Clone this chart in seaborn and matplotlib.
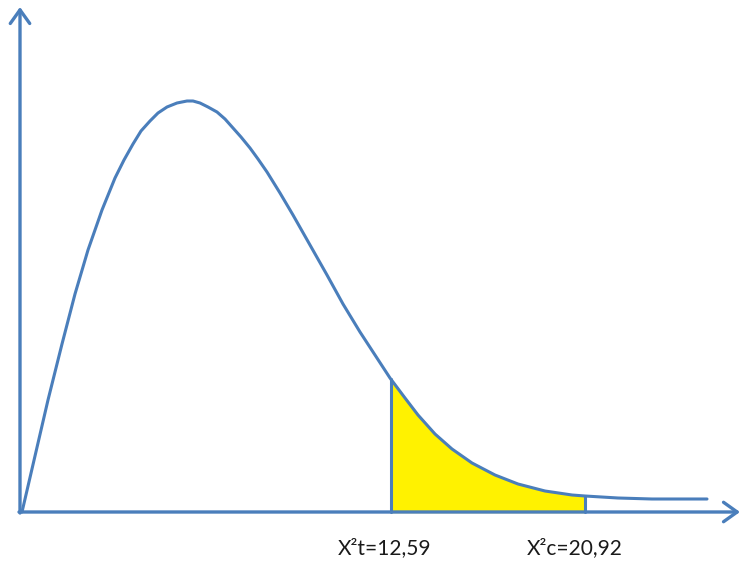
import numpy as np
import pandas as pd
import matplotlib
matplotlib.use('Agg')
import matplotlib.pyplot as plt
import seaborn as sns

# Curva desenhada (x, altura acima do eixo)
curva_x = [22, 35, 48, 62, 75, 88, 102, 115, 124, 133, 141, 150, 158, 167,
           177, 187, 193, 200, 208, 217, 225, 233, 241, 250, 258, 267, 280,
           293, 310, 327, 343, 360, 375, 390, 405, 418, 435, 452, 472, 495,
           518, 545, 572, 585, 618, 652, 707]
curva_y = [0, 56, 112, 168, 218, 262, 302, 334, 352, 368, 381, 391, 399, 405,
           409, 411, 411, 409, 405, 400, 393, 384, 375, 364, 353, 340, 319,
           297, 267, 237, 208, 180, 157, 134, 114, 97, 78, 63, 49, 37,
           28, 21, 17, 16, 14, 13, 13]

# Valores críticos (posição no eixo e rótulo)
x_tabelado = 391
x_calculado = 585
rotulos = ['X\u00b2t=12,59', 'X\u00b2c=20,92']

azul = '#4A7EBB'
amarelo = '#FFF200'

sns.set_style('white')
plt.rcParams['font.family'] = ['Lato', 'DejaVu Sans']

df = pd.DataFrame({'x': curva_x, 'y': curva_y})

fig = plt.figure(figsize=(7.41, 5.65), dpi=100)
ax = fig.add_axes([0, 0, 1, 1])
ax.set_xlim(0, 741)
ax.set_ylim(-53, 512)
ax.axis('off')

# Área de rejeição
xs = np.linspace(x_tabelado, x_calculado, 200)
ys = np.interp(xs, df['x'], df['y'])
ax.fill_between(xs, 0, ys, color=amarelo, zorder=1)
ax.plot([x_tabelado, x_tabelado], [0, np.interp(x_tabelado, df['x'], df['y'])],
        color=azul, lw=2.2, zorder=2)
ax.plot([x_calculado, x_calculado], [0, np.interp(x_calculado, df['x'], df['y'])],
        color=azul, lw=2.2, zorder=2)

# Curva
sns.lineplot(data=df, x='x', y='y', sort=False, color=azul, lw=2.2, ax=ax,
             zorder=3)
ax.lines[-1].set_solid_joinstyle('round')

# Eixos com setas
seta = dict(arrowstyle='->,head_length=0.7,head_width=0.5', color=azul,
            lw=2.4, shrinkA=0, shrinkB=0, mutation_scale=14)
ax.annotate('', xy=(740, 0), xytext=(19, 0), arrowprops=seta, zorder=4)
ax.annotate('', xy=(20, 505), xytext=(20, -1), arrowprops=seta, zorder=4)

# Rótulos
ax.text(x_tabelado - 6, -36, rotulos[0], ha='center', va='center',
        fontsize=15, color='#1a1a1a')
ax.text(x_calculado - 10, -36, rotulos[1], ha='center', va='center',
        fontsize=15, color='#1a1a1a')

plt.savefig('out.png', dpi=100)
